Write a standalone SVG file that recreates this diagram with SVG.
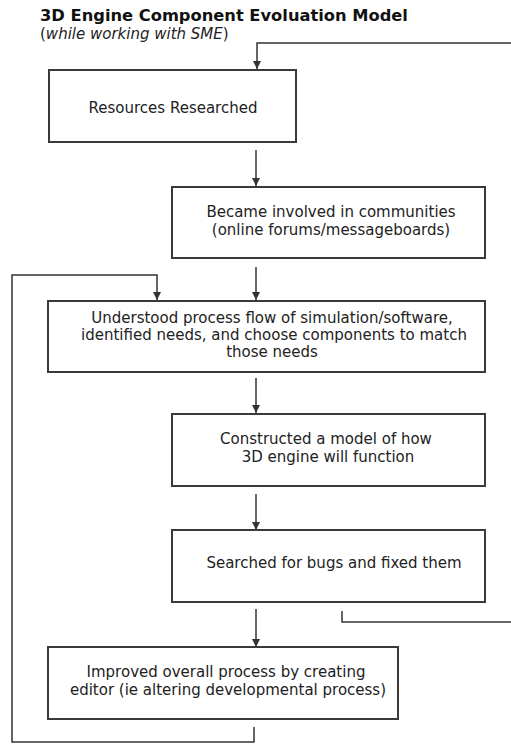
<svg xmlns="http://www.w3.org/2000/svg" width="511" height="745" viewBox="0 0 511 745">
<style>
.box{fill:#fff;stroke:#3a3a3a;stroke-width:2}
.t{font-family:"DejaVu Sans",Verdana,sans-serif;font-size:15px;fill:#222;text-anchor:middle}
.ln{fill:none;stroke:#333;stroke-width:1.5}
</style>
<defs>
<marker id="ah" viewBox="0 0 10 10" refX="10" refY="5" markerWidth="8" markerHeight="8" markerUnits="userSpaceOnUse" orient="auto">
<path d="M0,0 L10,5 L0,10 Z" fill="#333"/>
</marker>
</defs>
<rect width="511" height="745" fill="#fff"/>
<text x="40" y="21" style="font-family:'DejaVu Sans',Verdana,sans-serif;font-size:16.3px;font-weight:bold;fill:#111">3D Engine Component Evoluation Model</text>
<text x="40" y="39" style="font-family:'DejaVu Sans',Verdana,sans-serif;font-size:15px;fill:#222">(<tspan font-style="italic">while working with SME</tspan>)</text>
<g id="connectors">
<path class="ln" d="M511,43 H257 V69" marker-end="url(#ah)"/>
<path class="ln" d="M256,150 V186" marker-end="url(#ah)"/>
<path class="ln" d="M256,267 V300" marker-end="url(#ah)"/>
<path class="ln" d="M254,727 V742 H12 V275 H157 V300" marker-end="url(#ah)"/>
<path class="ln" d="M256,378 V413" marker-end="url(#ah)"/>
<path class="ln" d="M256,494 V530" marker-end="url(#ah)"/>
<path class="ln" d="M342,611 V622 H511"/>
<path class="ln" d="M256,609 V647" marker-end="url(#ah)"/>
</g>
<g id="n1"><rect class="box" x="49" y="70" width="247" height="72"/><text class="t" x="173" y="113">Resources Researched</text></g>
<g id="n2"><rect class="box" x="172" y="187" width="313" height="71"/><text class="t" x="331" y="217">Became involved in communities</text><text class="t" x="331" y="235">(online forums/messageboards)</text></g>
<g id="n3"><rect class="box" x="48" y="301" width="437" height="71"/><text class="t" x="272" y="323">Understood process flow of simulation/software,</text><text class="t" x="274" y="340">identified needs, and choose components to match</text><text class="t" x="272" y="357">those needs</text></g>
<g id="n4"><rect class="box" x="172" y="414" width="313" height="72"/><text class="t" x="326" y="444">Constructed a model of how</text><text class="t" x="328" y="462">3D engine will function</text></g>
<g id="n5"><rect class="box" x="172" y="530" width="313" height="72"/><text class="t" x="334" y="568">Searched for bugs and fixed them</text></g>
<g id="n6"><rect class="box" x="48" y="647" width="350" height="72"/><text class="t" x="226" y="677">Improved overall process by creating</text><text class="t" x="228" y="695">editor (ie altering developmental process)</text></g>
</svg>
